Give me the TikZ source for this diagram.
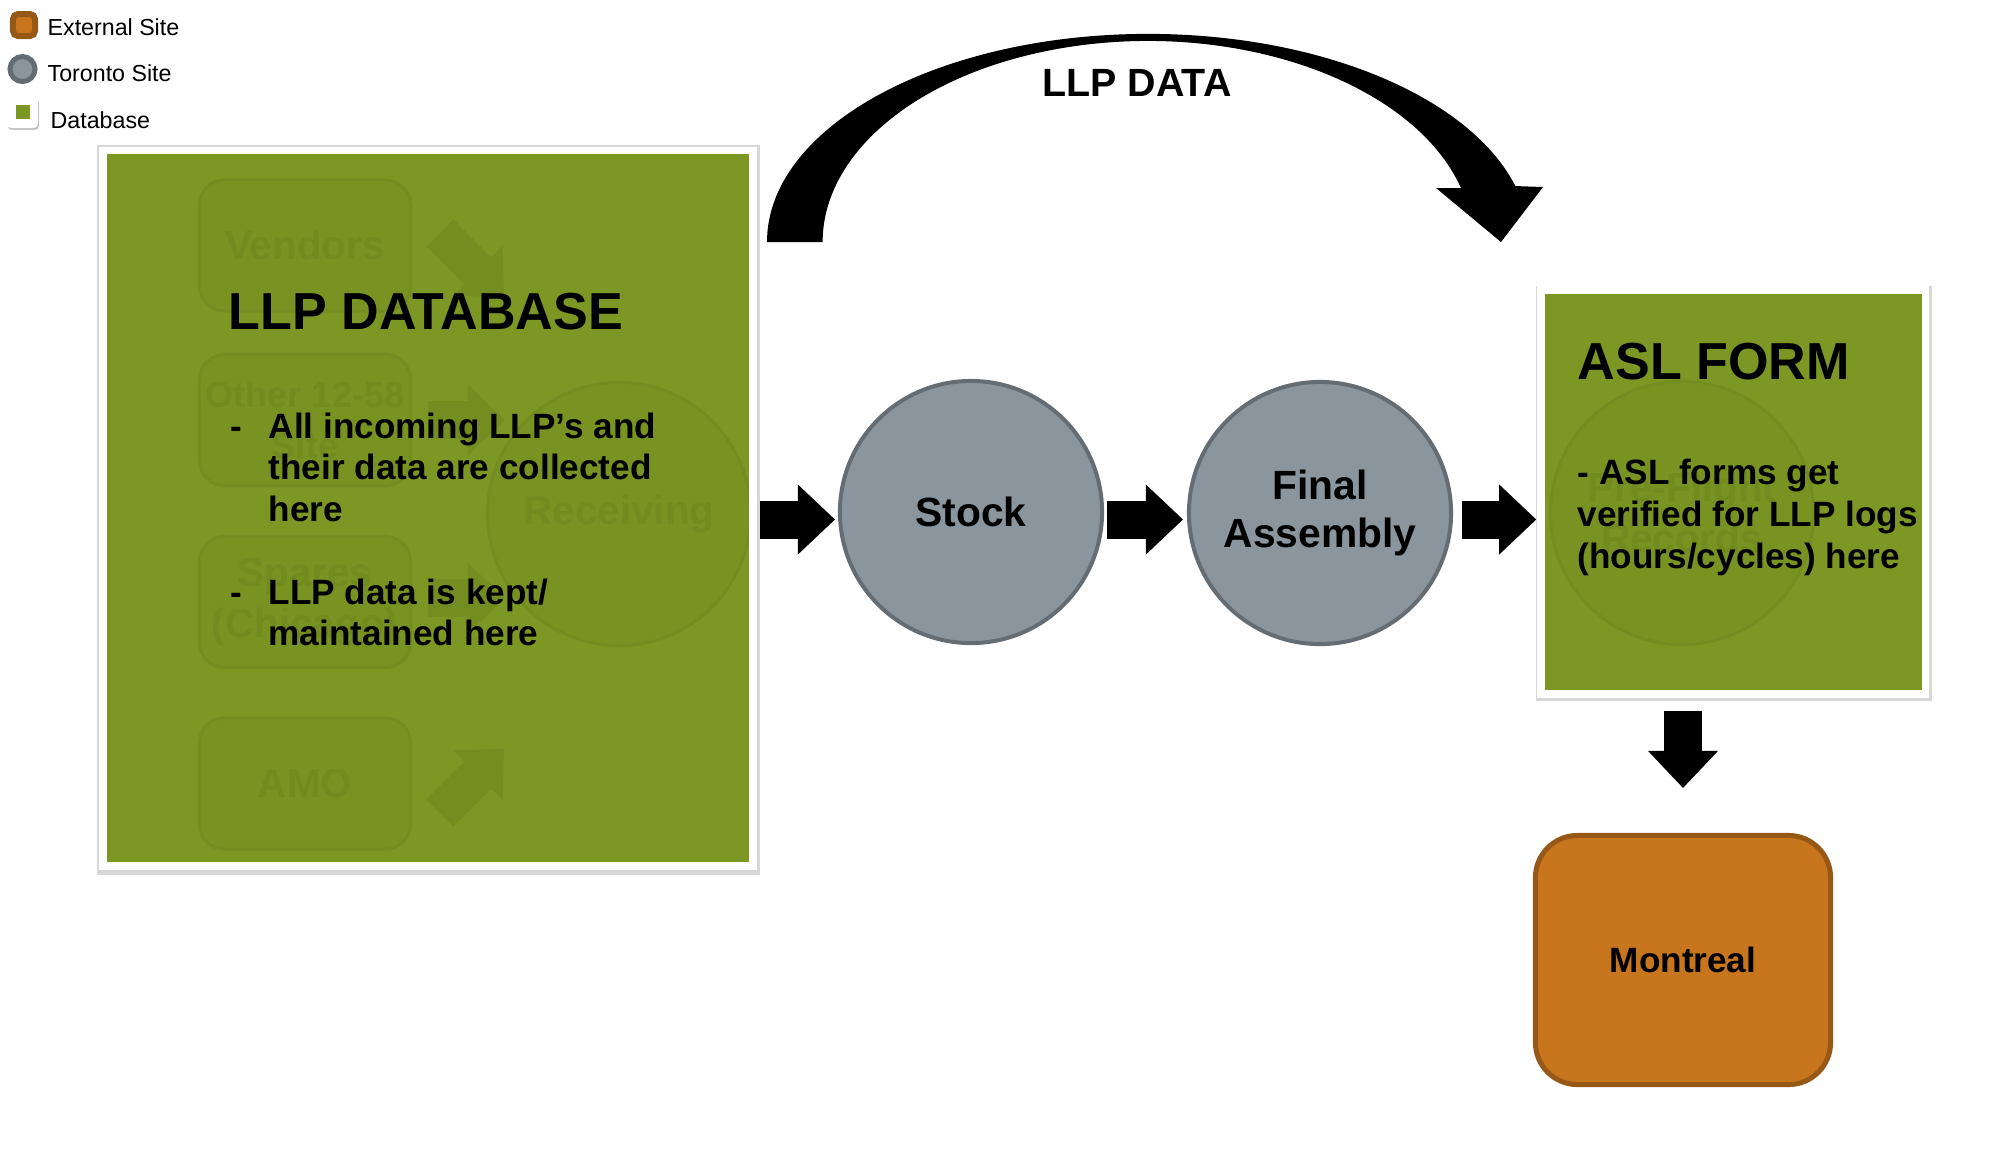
\documentclass[tikz,border=0pt]{standalone}
\usepackage{fontspec}
\setmainfont{Liberation Sans}
\usetikzlibrary{arrows.meta, shadows}

\definecolor{dbgreen}{RGB}{124,151,36}
\definecolor{ghostfill}{RGB}{120,147,34}
\definecolor{ghostline}{RGB}{115,141,32}
\definecolor{ghosttext}{RGB}{113,139,31}
\definecolor{sitegray}{RGB}{138,149,158}
\definecolor{siteline}{RGB}{101,109,116}
\definecolor{extorange}{RGB}{199,118,30}
\definecolor{extline}{RGB}{150,88,22}

\begin{document}
\begin{tikzpicture}[x = 0.01cm, y = -0.01cm, font = \bfseries,
        frame/.style = {rectangle, fill = white, inner sep = 0pt,
            drop shadow = {shadow xshift = 0.008cm, shadow yshift = -0.015cm, shadow scale = 1.008,
            fill = black!45, opacity = 0.35}},
        site/.style = {circle, draw = siteline, line width = 0.04cm, fill = sitegray,
            minimum size = 2.62cm, inner sep = 0pt, align = center,
            font = \fontsize{11.6}{13.8}\selectfont\bfseries},
        external/.style = {rectangle, rounded corners = 0.42cm, draw = extline, line width = 0.05cm,
            fill = extorange, minimum width = 2.95cm, minimum height = 2.49cm,
            font = \fontsize{10}{12}\selectfont\bfseries},
        fatarrow/.style = {line width = 0.38cm,
            -{Triangle[length = 0.37cm, width = 0.7cm, line width = 0pt]}},
        ghostarrow/.style = {fatarrow, draw = ghostline},
        ghostbox/.style = {rectangle, rounded corners = 0.25cm, draw = ghostline, line width = 0.03cm,
            fill = ghostfill, minimum width = 2.11cm, minimum height = 1.31cm, inner sep = 0pt,
            text = ghosttext, align = center, font = \fontsize{11.5}{14.5}\selectfont\bfseries},
        ghostsite/.style = {circle, draw = ghostline, line width = 0.03cm, fill = ghostfill,
            minimum size = 2.63cm, inner sep = 0pt, text = ghosttext, align = center,
            font = \fontsize{11.5}{14.5}\selectfont\bfseries},
        title/.style = {anchor = base west, inner sep = 0pt,
            font = \fontsize{14.8}{17}\selectfont\bfseries},
        body/.style = {anchor = base west, inner sep = 0pt, align = left,
            font = \fontsize{10}{11.86}\selectfont\bfseries},
        legend/.style = {anchor = base west, inner sep = 0pt,
            font = \fontsize{6.6}{8}\selectfont\mdseries}
    ]
        \useasboundingbox (0, 0) rectangle (2006, 1156);

        % legend
        \node (extkey) [external, minimum width = 0.22cm, minimum height = 0.22cm,
            rounded corners = 0.05cm, line width = 0.06cm, inner sep = 0pt] at (24, 25) {};
        \node (torkey) [site, minimum size = 0.25cm, line width = 0.05cm] at (22.5, 69) {};
        \node (dbkey) [frame, rounded corners = 0.04cm, minimum size = 0.31cm,
            drop shadow = {shadow xshift = 0.01cm, shadow yshift = -0.02cm, opacity = 0.3}] at (22.5, 112.5) {};
        \node (dbkeyfill) [fill = dbgreen, minimum size = 0.14cm, inner sep = 0pt] at (23, 111.5) {};
        \node (extname) [legend] at (47, 35) {External Site};
        \node (torname) [legend] at (47, 81) {Toronto Site};
        \node (dbname) [legend] at (50, 128) {Database};

        % LLP database and what shows through it
        \node (db) [frame, minimum width = 6.575cm, minimum height = 7.23cm] at (427.75, 508.5) {};
        \fill [dbgreen] ([shift = {(0.085cm, 0.09cm)}]db.south west) rectangle ([shift = {(-0.085cm, -0.075cm)}]db.north east);
        \begin{scope}
            \clip ([shift = {(0.085cm, 0.09cm)}]db.south west) rectangle ([shift = {(-0.085cm, -0.075cm)}]db.north east);
            \node (vendors) [ghostbox] at (305, 245.5) {Vendors};
            \node (othersite) [ghostbox, font = \fontsize{10.3}{14.5}\selectfont\bfseries] at (305, 420) {Other 12-58\\Site};
            \node (spares) [ghostbox] at (305, 602) {Spares\\(Chicago)};
            \node (amo) [ghostbox] at (305, 783.5) {AMO};
            \node (receiving) [ghostsite] at (619, 514) {Receiving};
            \draw [ghostarrow] (440, 233) -- (504, 297);
            \draw [ghostarrow] (428, 420) -- (505, 420);
            \draw [ghostarrow] (428, 598) -- (505, 598);
            \draw [ghostarrow] (440, 813) -- (504, 749);
        \end{scope}
        \node (dbtitle) [title] at (228, 329) {LLP DATABASE};
        \node (dbdash1) [body] at (230, 438) {-};
        \node (dbtext1) [body] at (268, 521.4) {All incoming LLP’s and\\their data are collected\\here};
        \node (dbdash2) [body] at (230, 604) {-};
        \node (dbtext2) [body] at (268, 645.7) {LLP data is kept/\\maintained here};

        % sites
        \node (stock) [site] at (971, 512) {Stock};
        \node (final) [site] at (1320, 513) {Final\\Assembly};

        % ASL form
        \node (asl) [frame, minimum width = 3.92cm, minimum height = 4.12cm] at (1733, 492) {};
        \fill [dbgreen] ([shift = {(0.09cm, 0.09cm)}]asl.south west) rectangle ([shift = {(-0.08cm, -0.09cm)}]asl.north east);
        \node (preflight) [ghostsite] at (1682, 513) {Pre-Flight\\Records};
        \node (asltitle) [title] at (1577, 379) {ASL FORM};
        \node (asltext) [body] at (1577, 568) {- ASL forms get\\verified for LLP logs\\(hours/cycles) here};

        \node (montreal) [external] at (1683, 960) {Montreal};

        % flow
        \coordinate (flow) at (0, 519.5);
        \draw [fatarrow, shorten < = 0.025cm, shorten > = 0.03cm] (db.east |- flow) -- (stock.west |- flow);
        \draw [fatarrow, shorten < = 0.03cm, shorten > = 0.04cm] (stock.east |- flow) -- (final.west |- flow);
        \draw [fatarrow, shorten < = 0.09cm] (final.east |- flow) -- (asl.west |- flow);
        \draw [fatarrow, shorten < = 0.12cm, shorten > = 0.45cm] (montreal.north |- asl.south) -- (montreal.north);

        % curved arrow over the top
        \fill (767, 242) arc [start angle = 180, end angle = 15.6, x radius = 3.81cm, y radius = 2.08cm]
            -- (1543, 187) -- (1501, 242) -- (1436, 188) -- (1461, 188)
            arc [start angle = 15.6, end angle = 180, x radius = 3.25cm, y radius = 2.01cm]
            -- cycle
        ;
        \node (arclabel) [anchor = base, inner sep = 0pt, font = \fontsize{11.2}{13}\selectfont\bfseries]
            at (1137, 96) {LLP DATA};
    \end{tikzpicture}
\end{document}
